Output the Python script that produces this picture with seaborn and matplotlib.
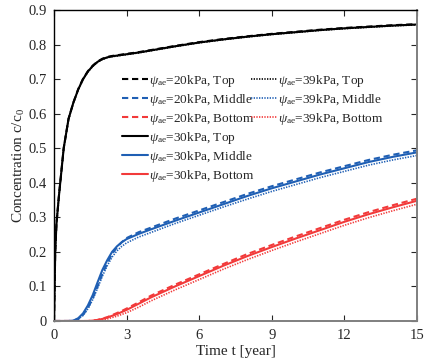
import numpy as np
import pandas as pd
import matplotlib
matplotlib.use("Agg")
import matplotlib.pyplot as plt
from matplotlib.lines import Line2D
import seaborn as sns

# Time grid shared by every series [year]
time = [0, 0.05, 0.1, 0.2, 0.4, 0.6, 0.8, 1.0, 1.2, 1.4, 1.6, 1.8, 2.0, 2.2, 2.4,
        2.6, 2.8, 3.0, 3.5, 4, 5, 6, 7, 8, 9, 10, 11, 12, 13, 14, 15]

# Normalised concentration c/c0 at the three depths for each air-entry value
top_20 = [0, 0.20, 0.28, 0.36, 0.50, 0.585, 0.632, 0.671, 0.701, 0.723, 0.739, 0.751, 0.759,
          0.764, 0.767, 0.769, 0.771, 0.773, 0.778, 0.784, 0.796, 0.807, 0.816, 0.824, 0.831,
          0.837, 0.843, 0.848, 0.852, 0.856, 0.859]
top_30 = [0, 0.20, 0.28, 0.36, 0.50, 0.585, 0.632, 0.670, 0.700, 0.722, 0.738, 0.750, 0.758,
          0.763, 0.766, 0.768, 0.770, 0.772, 0.777, 0.783, 0.795, 0.806, 0.815, 0.823, 0.830,
          0.836, 0.842, 0.847, 0.851, 0.855, 0.858]
top_39 = [0, 0.20, 0.28, 0.36, 0.50, 0.584, 0.631, 0.669, 0.699, 0.721, 0.737, 0.749, 0.757,
          0.762, 0.765, 0.767, 0.769, 0.771, 0.776, 0.782, 0.794, 0.805, 0.814, 0.822, 0.829,
          0.835, 0.841, 0.846, 0.850, 0.854, 0.857]

mid_20 = [0, 0, 0, 0, 0, 0, 0.001, 0.006, 0.018, 0.038, 0.066, 0.100, 0.136, 0.167, 0.194,
          0.213, 0.228, 0.240, 0.257, 0.270, 0.296, 0.320, 0.344, 0.368, 0.390, 0.410, 0.430,
          0.448, 0.466, 0.481, 0.494]
mid_30 = [0, 0, 0, 0, 0, 0, 0.001, 0.008, 0.022, 0.045, 0.075, 0.112, 0.148, 0.176, 0.200,
          0.216, 0.228, 0.237, 0.252, 0.265, 0.290, 0.314, 0.338, 0.362, 0.384, 0.404, 0.424,
          0.442, 0.460, 0.475, 0.488]
mid_39 = [0, 0, 0, 0, 0, 0, 0.001, 0.005, 0.016, 0.035, 0.062, 0.095, 0.130, 0.160, 0.185,
          0.203, 0.216, 0.226, 0.243, 0.256, 0.282, 0.306, 0.330, 0.353, 0.375, 0.395, 0.415,
          0.433, 0.451, 0.466, 0.479]

bot_20 = [0, 0, 0, 0, 0, 0, 0, 0, 0, 0, 0.001, 0.003, 0.007, 0.011, 0.017, 0.023, 0.029,
          0.036, 0.054, 0.073, 0.105, 0.135, 0.165, 0.194, 0.220, 0.245, 0.269, 0.293,
          0.315, 0.335, 0.354]
bot_30 = [0, 0, 0, 0, 0, 0, 0, 0, 0, 0, 0.001, 0.003, 0.006, 0.010, 0.015, 0.020, 0.026,
          0.032, 0.050, 0.068, 0.100, 0.130, 0.160, 0.188, 0.214, 0.239, 0.263, 0.287,
          0.309, 0.329, 0.348]
bot_39 = [0, 0, 0, 0, 0, 0, 0, 0, 0, 0, 0, 0.001, 0.003, 0.006, 0.010, 0.014, 0.019,
          0.024, 0.040, 0.058, 0.090, 0.120, 0.150, 0.178, 0.204, 0.229, 0.253, 0.277,
          0.299, 0.319, 0.338]

pressures = ["20kPa", "30kPa", "39kPa"]
positions = ["Top", "Middle", "Bottom"]
series = {
    ("20kPa", "Top"): top_20, ("30kPa", "Top"): top_30, ("39kPa", "Top"): top_39,
    ("20kPa", "Middle"): mid_20, ("30kPa", "Middle"): mid_30, ("39kPa", "Middle"): mid_39,
    ("20kPa", "Bottom"): bot_20, ("30kPa", "Bottom"): bot_30, ("39kPa", "Bottom"): bot_39,
}

rows = []
for (p, pos), vals in series.items():
    for t, c in zip(time, vals):
        rows.append({"t": t, "c": c, "psi": p, "pos": pos})
df = pd.DataFrame(rows)

sns.set_style("ticks")
plt.rcParams["font.family"] = ["Liberation Serif", "DejaVu Serif"]
plt.rcParams["mathtext.fontset"] = "custom"
plt.rcParams["mathtext.rm"] = "Liberation Serif"
plt.rcParams["mathtext.it"] = "Liberation Serif:italic"

colors = {"Top": "#000000", "Middle": "#1f5fb4", "Bottom": "#f23a3a"}
dashes = {"20kPa": (3, 1.8), "30kPa": "", "39kPa": (0.8, 0.8)}
widths = {"20kPa": 1.5, "30kPa": 1.5, "39kPa": 1.2}

fig = plt.figure(figsize=(4.26, 3.62), dpi=100)
ax = fig.add_axes([0.1268, 0.1133, 0.8521, 0.8591])

# Draw the solid (30 kPa) curves first, then dashed and dotted on top
for p in ["30kPa", "20kPa", "39kPa"]:
    sub = df[df["psi"] == p]
    sns.lineplot(data=sub, x="t", y="c", hue="pos", hue_order=positions,
                 palette=colors, estimator=None, sort=False, legend=False,
                 linewidth=widths[p], ax=ax)
    for ln in ax.get_lines()[-3:]:
        if dashes[p]:
            ln.set_dashes(dashes[p])

ax.set_xlim(0, 15)
ax.set_ylim(0, 0.9)
ax.set_xticks([0, 3, 6, 9, 12, 15])
ax.set_yticks(np.arange(0, 0.91, 0.1))
ax.set_yticklabels(["0"] + [f"{v:.1f}" for v in np.arange(0.1, 0.91, 0.1)])
ax.tick_params(direction="in", length=4, width=0.8, top=True, right=True,
               labelsize=10.5, colors="#262626", pad=5)
ax.tick_params(axis="x", pad=6)
for side in ["left", "top"]:
    ax.spines[side].set_color("#000000")
    ax.spines[side].set_linewidth(1.0)
for side in ["right", "bottom"]:
    ax.spines[side].set_color("#7f7f7f")
    ax.spines[side].set_linewidth(1.4)

ax.set_xlabel("Time t [year]", fontsize=11, labelpad=2)
ax.set_ylabel(r"Concentration c/c$_0$", fontsize=11, labelpad=1)


def handle(p, pos):
    h = Line2D([], [], color=colors[pos], linewidth=widths[p])
    if dashes[p]:
        h.set_dashes(dashes[p])
    return h


def label(p, pos):
    return r"$\psi_{\rm ae}$=" + p + ", " + pos


left_keys = [("20kPa", pos) for pos in positions] + [("30kPa", pos) for pos in positions]
right_keys = [("39kPa", pos) for pos in positions]

common = dict(frameon=False, fontsize=9.5, handlelength=1.95, handletextpad=0.1,
              labelspacing=0.22, borderpad=0, borderaxespad=0, loc="upper left")
leg1 = ax.legend([handle(*k) for k in left_keys], [label(*k) for k in left_keys],
                 bbox_to_anchor=(122 / 426, 1 - 73 / 362), bbox_transform=fig.transFigure,
                 **common)
ax.add_artist(leg1)
leg2 = ax.legend([handle(*k) for k in right_keys], [label(*k) for k in right_keys],
                 bbox_to_anchor=(251 / 426, 1 - 73 / 362), bbox_transform=fig.transFigure,
                 **common)

fig.savefig("out.png", dpi=100)
